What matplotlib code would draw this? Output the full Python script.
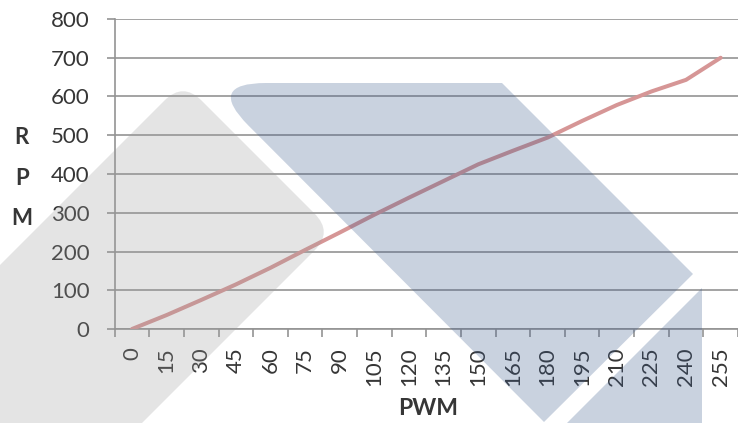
import numpy as np
import matplotlib
matplotlib.use('Agg')
import matplotlib.pyplot as plt
from matplotlib.path import Path
from matplotlib.patches import PathPatch

# motor speed against PWM duty value
pwm = [0, 15, 30, 45, 60, 75, 90, 105, 120, 135, 150, 165, 180, 195, 210, 225, 240, 255]
rpm = [0, 36, 75, 115, 158, 204, 249, 295, 339, 382, 425, 460, 494, 537, 578, 613, 643, 700]

plt.rcParams['font.family'] = ['Lato', 'DejaVu Sans']
text_col = '#363636'
grid_col = '#939393'


def rounded_path(points, cut):
    # polygon whose corners are softened with quadratic curves
    pts = [np.array(p, float) for p in points]
    n = len(pts)
    verts, codes = [], []
    for i in range(n):
        p, prev, nxt = pts[i], pts[i - 1], pts[(i + 1) % n]
        if cut[i] == 0:
            verts.append(p)
            codes.append(Path.LINETO)
            continue
        a = p + cut[i] * (prev - p) / np.linalg.norm(prev - p)
        b = p + cut[i] * (nxt - p) / np.linalg.norm(nxt - p)
        verts += [a, p, b]
        codes += [Path.LINETO, Path.CURVE3, Path.CURVE3]
    codes[0] = Path.MOVETO
    verts.append(verts[0])
    codes.append(Path.CLOSEPOLY)
    return Path(verts, codes)


fig = plt.figure(figsize=(7.38, 4.23), dpi=100)
ax = fig.add_axes([0.1554, 0.2222, 0.8446, 0.7329])

x = np.arange(len(pwm))
ax.plot(x, rpm, color='#D69696', lw=2.9, solid_capstyle='round',
        solid_joinstyle='round', zorder=3)

ax.set_xlim(-0.5, len(pwm) - 0.5)
ax.set_ylim(0, 800)
ax.set_yticks(range(0, 801, 100))
ax.set_xticks(x)
ax.set_xticklabels(pwm, rotation=90)
ax.set_xticks(np.arange(-0.5, len(pwm)), minor=True)

ax.tick_params(axis='x', which='major', length=0, pad=13, labelsize=16, labelcolor=text_col)
ax.tick_params(axis='x', which='minor', length=6, width=1.2, color=grid_col)
ax.tick_params(axis='y', length=6, width=1.2, color=grid_col, pad=12,
               labelsize=16, labelcolor=text_col)

ax.grid(axis='y', color=grid_col, lw=1.2)
ax.set_axisbelow(True)
for s in ['top', 'right']:
    ax.spines[s].set_visible(False)
for s in ['left', 'bottom']:
    ax.spines[s].set_color(grid_col)
    ax.spines[s].set_linewidth(1.2)

ax.set_ylabel('R\nP\nM', rotation=0, fontsize=16, fontweight='bold', color=text_col,
              linespacing=2.15, ha='center', va='center')
ax.yaxis.set_label_coords(-0.149, 0.487)
ax.set_xlabel('PWM', fontsize=16.5, fontweight='bold', color=text_col)
ax.xaxis.set_label_coords(0.503, -0.222)

# translucent shapes laid over the chart, in pixel coordinates
over = fig.add_axes([0, 0, 1, 1], zorder=5)
over.set_xlim(0, 738)
over.set_ylim(423, 0)
over.axis('off')
over.patch.set_alpha(0)

grey = rounded_path([(-80, 345), (183, 82), (333, 232), (120, 445), (-80, 445)],
                    [0, 26, 26, 0, 0])
blue1 = rounded_path([(206, 83), (502, 83), (693, 274), (544, 422)], [60, 0, 0, 0])
blue2 = rounded_path([(702, 288), (702, 460), (530, 460)], [0, 0, 0])

over.add_patch(PathPatch(grey, facecolor='#9a9a9a', edgecolor='none', alpha=0.26))
over.add_patch(PathPatch(blue1, facecolor='#3a5a8c', edgecolor='none', alpha=0.27))
over.add_patch(PathPatch(blue2, facecolor='#3a5a8c', edgecolor='none', alpha=0.27))

fig.savefig('out.png', dpi=100)
